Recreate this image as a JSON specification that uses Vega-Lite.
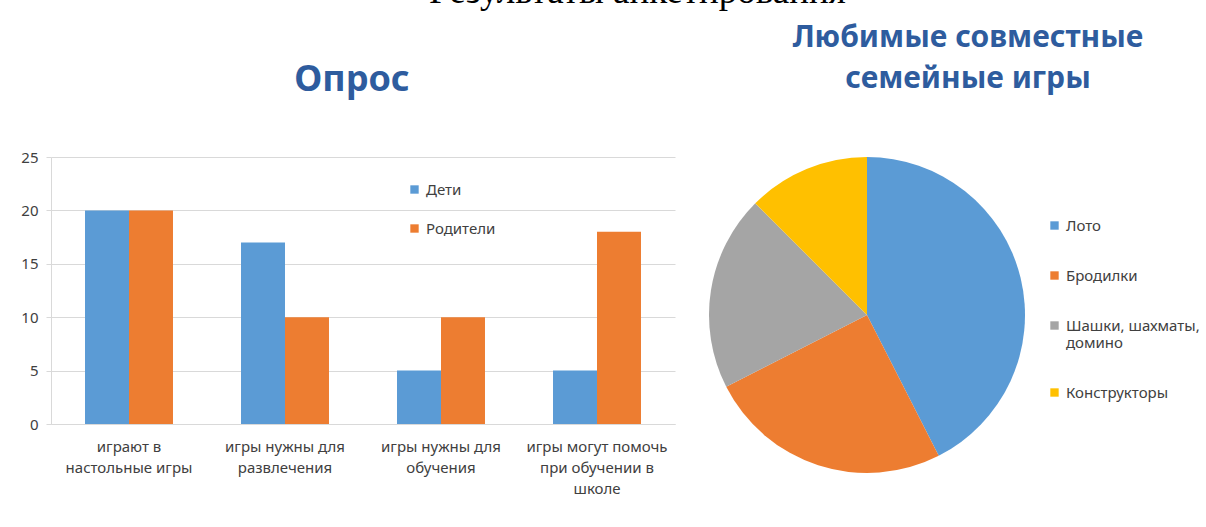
{
  "$schema": "https://vega.github.io/schema/vega-lite/v6.json",
  "background": "white",
  "padding": {"left": 20, "top": -27, "right": 0, "bottom": 0},
  "title": {"text": "Результаты анкетирования", "font": "Liberation Serif", "fontSize": 37, "fontWeight": "normal", "color": "#000000", "anchor": "middle", "offset": 12, "dx": 27},
  "config": {"view": {"stroke": null}, "font": "Noto Sans"},
  "bounds": "flush",
  "spacing": 34,
  "resolve": {"scale": {"color": "independent"}, "legend": {"color": "independent"}},
  "hconcat": [
    {
      "width": 624,
      "height": 267,
      "title": {"text": "Опрос", "font": "Noto Sans", "fontSize": 36, "fontWeight": "bold", "color": "#2E5C9E", "offset": 51, "dx": -11, "anchor": "middle", "frame": "group"},
      "data": {"values": [
        {"question": "играют в настольные игры", "group": "Дети", "value": 20},
        {"question": "играют в настольные игры", "group": "Родители", "value": 20},
        {"question": "игры нужны для развлечения", "group": "Дети", "value": 17},
        {"question": "игры нужны для развлечения", "group": "Родители", "value": 10},
        {"question": "игры нужны для обучения", "group": "Дети", "value": 5},
        {"question": "игры нужны для обучения", "group": "Родители", "value": 10},
        {"question": "игры могут помочь при обучении в школе", "group": "Дети", "value": 5},
        {"question": "игры могут помочь при обучении в школе", "group": "Родители", "value": 18}
      ]},
      "mark": {"type": "bar"},
      "encoding": {
        "x": {
          "field": "question", "type": "nominal", "sort": null,
          "scale": {"paddingInner": 0.436, "paddingOuter": 0.218},
          "axis": {
            "title": null, "labelAngle": 0, "ticks": false,
            "domainColor": "#D9D9D9", "labelFontSize": 15, "labelColor": "#404040",
            "labelPadding": 15, "labelLineHeight": 21, "labelBaseline": "top",
            "labelExpr": "datum.value == 'играют в настольные игры' ? ['играют в', 'настольные игры'] : datum.value == 'игры нужны для развлечения' ? ['игры нужны для', 'развлечения'] : datum.value == 'игры нужны для обучения' ? ['игры нужны для', 'обучения'] : ['игры могут помочь', 'при обучении в', 'школе']"
          }
        },
        "xOffset": {"field": "group", "sort": ["Дети", "Родители"]},
        "y": {
          "field": "value", "type": "quantitative", "scale": {"domain": [0, 25]},
          "axis": {
            "title": null, "values": [0, 5, 10, 15, 20, 25], "grid": true, "gridColor": "#D9D9D9",
            "domainColor": "#D9D9D9", "tickColor": "#D9D9D9", "tickSize": 5, "labelFontSize": 15,
            "labelColor": "#404040", "labelPadding": 8
          }
        },
        "color": {
          "field": "group", "type": "nominal",
          "scale": {"domain": ["Дети", "Родители"], "range": ["#5B9BD5", "#ED7D31"]},
          "legend": {
            "title": null, "orient": "none", "legendX": 356, "legendY": 25, "symbolType": "square",
            "symbolSize": 70, "symbolStrokeWidth": 0, "labelFontSize": 15, "labelColor": "#404040",
            "rowPadding": 23, "labelOffset": 4
          }
        }
      }
    },
    {
      "width": 316,
      "height": 316,
      "title": {"text": ["Любимые совместные", "семейные игры"], "font": "Noto Sans", "fontSize": 30, "fontWeight": "bold", "color": "#2E5C9E", "offset": 63, "dx": 101, "anchor": "middle", "frame": "group", "lineHeight": 41},
      "data": {"values": [
        {"game": "Лото", "count": 17, "n": 1},
        {"game": "Бродилки", "count": 10, "n": 2},
        {"game": "Шашки, шахматы, домино", "count": 8, "n": 3},
        {"game": "Конструкторы", "count": 5, "n": 4}
      ]},
      "mark": {"type": "arc"},
      "encoding": {
        "theta": {"field": "count", "type": "quantitative", "stack": true},
        "order": {"field": "n", "type": "quantitative"},
        "color": {
          "field": "game", "type": "nominal", "sort": null,
          "scale": {"domain": ["Лото", "Бродилки", "Шашки, шахматы, домино", "Конструкторы"], "range": ["#5B9BD5", "#ED7D31", "#A5A5A5", "#FFC000"]},
          "legend": {
            "title": null, "orient": "none", "legendX": 338, "legendY": 61, "symbolType": "square",
            "symbolSize": 70, "symbolStrokeWidth": 0, "labelFontSize": 15, "labelColor": "#404040",
            "rowPadding": 34, "labelOffset": 4, "labelLimit": 200,
            "labelExpr": "datum.label == 'Шашки, шахматы, домино' ? ['Шашки, шахматы,', 'домино'] : datum.label"
          }
        }
      }
    }
  ]
}
